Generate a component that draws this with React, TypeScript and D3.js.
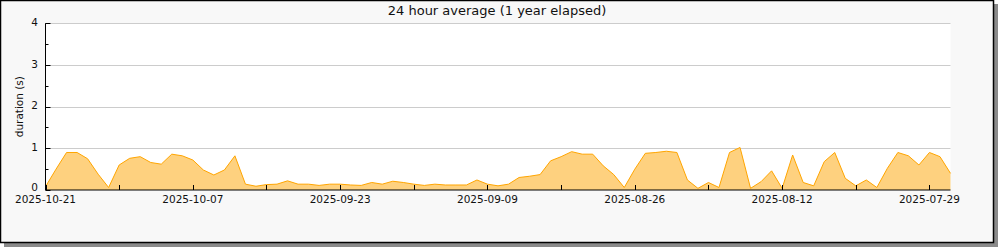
import React from "react";
import * as d3 from "d3";

const TITLE = "24 hour average (1 year elapsed)";
const Y_LABEL = "duration (s)";
const START_DATE = "2025-10-21";
const END_DATE = "2025-07-27";
// daily values going back in time from START_DATE
const VALUES = [
  0.08, 0.5, 0.9, 0.9, 0.75, 0.38, 0.06, 0.6, 0.76, 0.8,
  0.66, 0.62, 0.86, 0.82, 0.72, 0.48, 0.36, 0.48, 0.82, 0.14,
  0.09, 0.13, 0.14, 0.22, 0.14, 0.14, 0.11, 0.14, 0.14, 0.12,
  0.11, 0.18, 0.14, 0.21, 0.18, 0.14, 0.11, 0.14, 0.12, 0.12,
  0.12, 0.24, 0.14, 0.1, 0.14, 0.3, 0.33, 0.37, 0.7, 0.8,
  0.92, 0.86, 0.86, 0.58, 0.37, 0.06, 0.5, 0.88, 0.9, 0.93,
  0.9, 0.24, 0.04, 0.18, 0.06, 0.9, 1.02, 0.04, 0.2, 0.46,
  0.04, 0.84, 0.18, 0.1, 0.68, 0.9, 0.28, 0.1, 0.24, 0.06,
  0.52, 0.9, 0.82, 0.6, 0.9, 0.8, 0.4,
];
const X_TICK_LABELS = [
  "2025-10-21", "2025-10-07", "2025-09-23", "2025-09-09",
  "2025-08-26", "2025-08-12", "2025-07-29",
];
const Y_TICKS = [0, 1, 2, 3, 4];
const Y_MINOR = [0.5, 1.5, 2.5, 3.5];

const parse = (s: string) => new Date(s + "T00:00:00Z");

export default function App() {
  const W = 1000, H = 250;
  const left = 45.5, right = 950.5, top = 23.3, bottom = 190;
  const start = parse(START_DATE);
  const data = VALUES.map((v, i) => ({ date: d3.utcDay.offset(start, -i), v }));

  const x = d3.scaleUtc().domain([start, parse(END_DATE)]).range([left, right]);
  const y = d3.scaleLinear().domain([0, 4]).range([bottom, top]);

  const area = d3.area<{ date: Date; v: number }>()
    .x((d) => x(d.date)).y0(y(0)).y1((d) => y(d.v));
  const line = d3.line<{ date: Date; v: number }>()
    .x((d) => x(d.date)).y((d) => y(d.v));

  const majorDates = X_TICK_LABELS.map(parse);
  const minorDates = majorDates.map((d) => d3.utcDay.offset(d, -7)).filter((d) => d >= parse(END_DATE));

  const font = "DejaVu Sans, sans-serif";

  return (
    <svg width={W} height={H} style={{ position: "absolute", left: 0, top: 0, display: "block" }}>
      <rect x={4} y={4} width={994} height={243} fill="#8a8a8a" />
      <rect x={0.5} y={0.5} width={993} height={242} fill="#f8f8f8" stroke="#000" strokeWidth={1.5} />
      <rect x={left} y={top} width={right - left} height={bottom - top} fill="#fff" />
      <text x={497} y={15} textAnchor="middle" fontFamily={font} fontSize={13} fill="#111">{TITLE}</text>
      {Y_TICKS.filter((t) => t > 0).map((t) => (
        <line key={"g" + t} x1={left} x2={right} y1={Math.round(y(t)) + 0.5} y2={Math.round(y(t)) + 0.5} stroke="#ccc" />
      ))}
      <path d={area(data) || ""} fill="#fed17f" />
      <path d={line(data) || ""} fill="none" stroke="#ffa500" strokeWidth={1} />
      <line x1={left} x2={left} y1={top} y2={bottom} stroke="#000" />
      <line x1={left} x2={right} y1={bottom} y2={bottom} stroke="#000" />
      {Y_TICKS.map((t) => (
        <g key={"y" + t}>
          <line x1={left} x2={left + 5} y1={Math.round(y(t)) + 0.5} y2={Math.round(y(t)) + 0.5} stroke="#000" />
          <text x={38} y={t === 0 ? 190.5 : y(t) + 2.6} textAnchor="end" fontFamily={font} fontSize={10.5} fill="#111">{t}</text>
        </g>
      ))}
      {Y_MINOR.map((t) => (
        <line key={"ym" + t} x1={left} x2={left + 3} y1={Math.round(y(t)) + 0.5} y2={Math.round(y(t)) + 0.5} stroke="#000" />
      ))}
      {majorDates.map((d, i) => (
        <g key={"x" + i}>
          <line x1={Math.round(x(d)) + 0.5} x2={Math.round(x(d)) + 0.5} y1={bottom} y2={bottom - 5} stroke="#000" />
          <text x={x(d)} y={202.5} textAnchor="middle" fontFamily={font} fontSize={10.5} fill="#111">{X_TICK_LABELS[i]}</text>
        </g>
      ))}
      {minorDates.map((d, i) => (
        <line key={"xm" + i} x1={Math.round(x(d)) + 0.5} x2={Math.round(x(d)) + 0.5} y1={bottom} y2={bottom - 5} stroke="#000" />
      ))}
      <text transform={`translate(23,${(top + bottom) / 2}) rotate(-90)`} textAnchor="middle" fontFamily={font} fontSize={10.5} fill="#111">{Y_LABEL}</text>
    </svg>
  );
}
